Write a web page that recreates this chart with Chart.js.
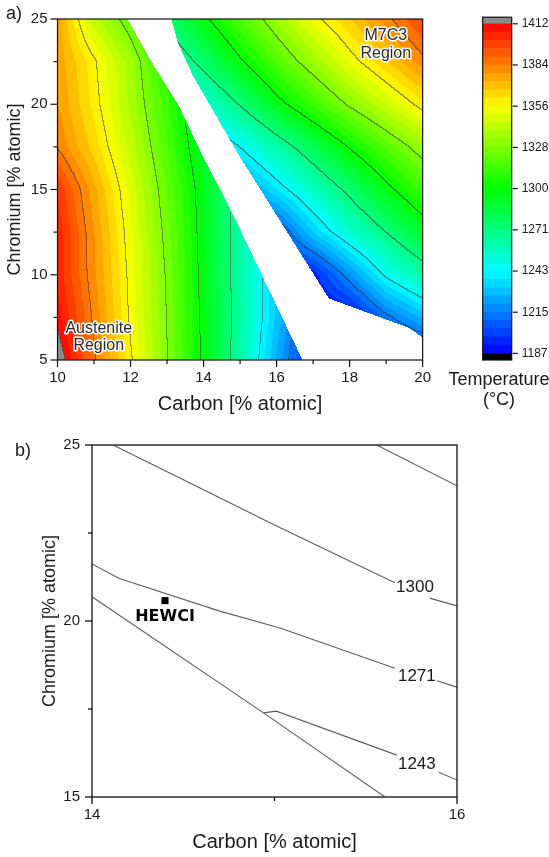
<!DOCTYPE html>
<html>
<head>
<meta charset="utf-8">
<script src="https://cdn.jsdelivr.net/npm/chart.js@4.4.1/dist/chart.umd.min.js"></script>
<style>
  body { margin: 0; background: #fff; }
  #page { position: relative; width: 549px; height: 857px; overflow: hidden; font-family: "Liberation Sans", Arial, sans-serif; color: #1a1a1a; }
  #page canvas { position: absolute; }
  .tag { position: absolute; font-size: 18px; line-height: 18px; }
  #cbTitle { position: absolute; left: 440px; top: 369px; width: 118px; text-align: center; font-size: 18px; line-height: 20px; }
</style>
</head>
<body>
<div id="page">
  <canvas id="mapChart" width="440" height="420" style="left:0;top:0"></canvas>
  <canvas id="barChart" width="109" height="420" style="left:440px;top:0"></canvas>
  <canvas id="zoomChart" width="480" height="437" style="left:0;top:420px"></canvas>
  <div class="tag" style="left:6px;top:4px">a)</div>
  <div class="tag" style="left:15px;top:441px">b)</div>
  <div id="cbTitle">Temperature<br>(°C)</div>
</div>
<script>
Chart.defaults.font.family = '"Liberation Sans", Arial, sans-serif';
Chart.defaults.color = "#1a1a1a";
Chart.defaults.animation = false;

// ---- colour scale ----
const T_MIN = 1187.5;
const T_MAX = 1412.5;
const BANDS = 40;
const BAND = (T_MAX - T_MIN) / BANDS;
const LINE_STEP = BAND * 5;
const CAP = 4.5;
const cbTickLabels = ["1187", "1215", "1243", "1271", "1300", "1328", "1356", "1384", "1412"];

// ---- temperature field (top map), one grid each side of the gap ----
const crRows = [25, 22.5, 20, 17.5, 15, 12.5, 10, 7.5, 5];
const leftCols = [10, 11, 12, 13, 14, 15, 16, 17];
const rightCols = [13, 14, 15, 16, 17, 18, 19, 20];

const leftTemps = [
  [1376, 1342, 1322, 1296, 1270, 1245, 1220, 1195],
  [1377, 1358, 1336, 1308, 1280, 1252, 1226, 1200],
  [1379, 1360, 1338, 1313, 1284, 1256, 1230, 1205],
  [1384, 1365, 1343, 1317, 1289, 1262, 1235, 1208],
  [1401, 1375, 1349, 1322, 1294, 1265, 1237, 1210],
  [1405, 1379, 1352, 1325, 1295, 1264, 1235, 1205],
  [1405, 1380, 1354, 1327, 1296, 1264, 1232, 1202],
  [1410, 1383, 1355, 1328, 1297, 1265, 1231, 1200],
  [1420, 1386, 1358, 1329, 1298, 1263, 1226, 1195]
];

const rightTemps = [
  [1277, 1297, 1317, 1335, 1353, 1367, 1382, 1397],
  [1257, 1277, 1298, 1318, 1335, 1352, 1367, 1382],
  [1233, 1253, 1273, 1295, 1313, 1330, 1345, 1360],
  [1205, 1226, 1244, 1263, 1282, 1301, 1318, 1334],
  [1195, 1200, 1219, 1238, 1257, 1276, 1296, 1314],
  [1190, 1195, 1200, 1205, 1233, 1254, 1272, 1291],
  [1188, 1188, 1190, 1192, 1195, 1220, 1246, 1263],
  [1188, 1188, 1188, 1188, 1188, 1190, 1213, 1228],
  [1188, 1188, 1188, 1188, 1188, 1188, 1190, 1195]
];

// edges of the empty band (carbon, chromium), top to bottom
const gapLeftEdge = [[11.92, 25], [12.52, 22.68], [13.34, 19.83], [13.97, 16.98], [14.71, 13.95], [16.71, 5]];
const gapRightEdge = [[13.12, 25], [13.29, 23.65], [13.7, 21.71], [14.98, 16.97], [17.43, 8.61], [19.62, 6.89], [20, 6.32]];

const leftRegion = [[10, 25]].concat(gapLeftEdge, [[10, 5]]);
const rightRegion = gapRightEdge.concat([[20, 25]]);

const regionNotes = [
  { lines: ["Austenite", "Region"], at: [11.13, 6.33] },
  { lines: ["M7C3", "Region"], at: [18.99, 23.5] }
];

// ---- zoomed view: isotherms ----
const line1328 = [[15.56, 25], [16, 23.84]];
const line1300 = [[14.115, 25], [14.7, 23.5], [15.0, 22.73], [15.66, 21.09], null, [15.85, 20.65], [16, 20.43]];
const line1271 = [[14, 21.62], [14.15, 21.21], [14.7, 20.28], [15.03, 19.8], [15.66, 18.66], null, [15.89, 18.3], [16, 18.12]];
const line1243 = [[14.94, 17.39], [15.01, 17.44], [15.67, 16.19], null, [15.9, 15.7], [16, 15.48]];
const gapBoundary = [[14, 20.69], [14.94, 17.39], [15.605, 15]];
const levelLabels = [1300, 1271, 1243];
const levelLabelAt = [[15.77, 20.96], [15.78, 18.42], [15.78, 15.94]];
const hewci = [14.40, 20.58];

const topXLabels = [10, 12, 14, 16, 18, 20];
const topYLabels = [5, 10, 15, 20, 25];
const zoomXLabels = [14, 16];
const zoomYLabels = [15, 20, 25];

function hueRgb(h) {
  const hp = h / 60;
  const v = Math.round(255 * (1 - Math.abs((hp % 2) - 1)));
  if (hp < 1) return [255, v, 0];
  if (hp < 2) return [v, 255, 0];
  if (hp < 3) return [0, 255, v];
  return [0, v, 255];
}

function bandRgb(b) {
  return hueRgb(240 - (b + 0.5) * 240 / BANDS);
}

function tempRgb(t) {
  if (t >= T_MAX) return [138, 138, 138];
  if (t < T_MIN) return [0, 0, 0];
  return bandRgb(Math.floor((t - T_MIN) / BAND));
}

function insidePoly(px, py, poly) {
  let inside = false;
  for (let i = 0, j = poly.length - 1; i < poly.length; j = i++) {
    const xi = poly[i][0], yi = poly[i][1], xj = poly[j][0], yj = poly[j][1];
    if ((yi > py) !== (yj > py) && px < (xj - xi) * (py - yi) / (yj - yi) + xi) {
      inside = !inside;
    }
  }
  return inside;
}

function sampleGrid(grid, cols, c, cr) {
  let i = 0;
  while (i < cols.length - 2 && c > cols[i + 1]) i++;
  let j = 0;
  while (j < crRows.length - 2 && cr < crRows[j + 1]) j++;
  const fx = Math.min(1, Math.max(0, (c - cols[i]) / (cols[i + 1] - cols[i])));
  const fy = Math.min(1, Math.max(0, (crRows[j] - cr) / (crRows[j] - crRows[j + 1])));
  const top = grid[j][i] + (grid[j][i + 1] - grid[j][i]) * fx;
  const bot = grid[j + 1][i] + (grid[j + 1][i + 1] - grid[j + 1][i]) * fx;
  return top + (bot - top) * fy;
}

function toPoints(list) {
  return list.map(function (p) {
    return p ? { x: p[0], y: p[1] } : { x: null, y: null };
  });
}

// filled contour map + isotherms, painted pixel by pixel through the scales
const fieldPlugin = {
  id: "field",
  beforeDatasetsDraw(chart) {
    const ctx = chart.ctx;
    const a = chart.chartArea;
    const xs = chart.scales.x;
    const ys = chart.scales.y;
    const x0 = Math.floor(a.left), y0 = Math.floor(a.top);
    const w = Math.ceil(a.right) - x0, h = Math.ceil(a.bottom) - y0;

    const off = document.createElement("canvas");
    off.width = w;
    off.height = h;
    const octx = off.getContext("2d");
    const img = octx.createImageData(w, h);
    const px = img.data;
    const level = new Int16Array(w * h);
    const region = new Uint8Array(w * h);

    for (let j = 0; j < h; j++) {
      const cr = ys.getValueForPixel(y0 + j + 0.5);
      for (let i = 0; i < w; i++) {
        const c = xs.getValueForPixel(x0 + i + 0.5);
        const k = j * w + i;
        let t;
        if (insidePoly(c, cr, leftRegion)) {
          t = sampleGrid(leftTemps, leftCols, c, cr);
          region[k] = 1;
        } else if (insidePoly(c, cr, rightRegion)) {
          t = sampleGrid(rightTemps, rightCols, c, cr);
          region[k] = 2;
        } else {
          continue;
        }
        const rgb = tempRgb(t);
        level[k] = Math.floor((t - T_MIN) / LINE_STEP);
        px[k * 4] = rgb[0];
        px[k * 4 + 1] = rgb[1];
        px[k * 4 + 2] = rgb[2];
        px[k * 4 + 3] = 255;
      }
    }

    // isotherm wherever the level changes between neighbours
    for (let j = 0; j < h; j++) {
      for (let i = 0; i < w; i++) {
        const k = j * w + i;
        if (!region[k]) continue;
        let edge = false;
        if (i + 1 < w && region[k + 1] === region[k] && level[k + 1] !== level[k]) edge = true;
        if (j + 1 < h && region[k + w] === region[k] && level[k + w] !== level[k]) edge = true;
        if (edge) {
          for (let n = 0; n < 3; n++) {
            px[k * 4 + n] = Math.round(px[k * 4 + n] * 0.5 + 45 * 0.5);
          }
        }
      }
    }

    octx.putImageData(img, 0, 0);
    ctx.drawImage(off, x0, y0);
  },
  afterDatasetsDraw(chart) {
    const ctx = chart.ctx;
    const xs = chart.scales.x;
    const ys = chart.scales.y;
    ctx.save();
    ctx.font = '16px "Liberation Sans", Arial, sans-serif';
    ctx.textAlign = "center";
    ctx.textBaseline = "middle";
    ctx.lineJoin = "round";
    ctx.lineWidth = 3;
    ctx.strokeStyle = "#ffffff";
    ctx.fillStyle = "#2a2a2a";
    regionNotes.forEach(function (note) {
      const cx = xs.getPixelForValue(note.at[0]);
      const cy = ys.getPixelForValue(note.at[1]);
      note.lines.forEach(function (txt, n) {
        const ty = cy + (n - (note.lines.length - 1) / 2) * 17.5;
        ctx.strokeText(txt, cx, ty);
        ctx.fillText(txt, cx, ty);
      });
    });
    ctx.restore();
  }
};

// box frame plus outward major/minor tick marks
const frameTicks = {
  id: "frameTicks",
  afterDraw(chart, args, opts) {
    const ctx = chart.ctx;
    const a = chart.chartArea;
    ctx.save();
    ctx.strokeStyle = "#111";
    ctx.lineWidth = opts.lineWidth || 1.2;
    ctx.strokeRect(a.left, a.top, a.right - a.left, a.bottom - a.top);
    Object.values(chart.scales).forEach(function (s) {
      if (!s.options.display) return;
      s.ticks.forEach(function (tick) {
        const len = tick.label !== "" ? opts.major : opts.minor;
        const p = s.getPixelForValue(tick.value);
        ctx.beginPath();
        if (s.position === "bottom") {
          ctx.moveTo(p, a.bottom);
          ctx.lineTo(p, a.bottom + len);
        } else if (s.position === "left") {
          ctx.moveTo(a.left, p);
          ctx.lineTo(a.left - len, p);
        } else if (s.position === "right") {
          ctx.moveTo(a.right + 1, p);
          ctx.lineTo(a.right + 1 + len, p);
        }
        ctx.stroke();
      });
    });
    ctx.restore();
  }
};

// level numbers on the isotherms and the alloy name
const zoomLabels = {
  id: "zoomLabels",
  afterDatasetsDraw(chart) {
    const ctx = chart.ctx;
    const xs = chart.scales.x;
    const ys = chart.scales.y;
    ctx.save();
    ctx.textAlign = "center";
    ctx.textBaseline = "middle";
    ctx.fillStyle = "#1a1a1a";
    ctx.font = '17px "Liberation Sans", Arial, sans-serif';
    levelLabels.forEach(function (lv, n) {
      ctx.fillText(String(lv), xs.getPixelForValue(levelLabelAt[n][0]), ys.getPixelForValue(levelLabelAt[n][1]));
    });
    ctx.font = 'bold 16px "DejaVu Sans", sans-serif';
    ctx.fillStyle = "#000";
    ctx.fillText("HEWCI", xs.getPixelForValue(hewci[0]), ys.getPixelForValue(hewci[1]) + 16.5);
    ctx.restore();
  }
};

function tickFont(size) {
  return { size: size };
}

// ---- a) contour map ----
new Chart(document.getElementById("mapChart"), {
  type: "scatter",
  data: { datasets: [] },
  options: {
    responsive: false,
    layout: { padding: { top: 9.3, right: 17, left: 0, bottom: 0 } },
    plugins: {
      legend: { display: false },
      tooltip: { enabled: false },
      frameTicks: { major: 7, minor: 4, lineWidth: 1.2 }
    },
    scales: {
      x: {
        type: "linear",
        min: 10,
        max: 20,
        afterFit: function (s) { s.height = 60; },
        ticks: {
          stepSize: 1,
          autoSkip: false,
          maxRotation: 0,
          padding: 9,
          font: tickFont(15),
          callback: function (v) { return topXLabels.includes(v) ? String(v) : ""; }
        },
        grid: { drawOnChartArea: false, drawTicks: false },
        border: { display: false },
        title: { display: true, text: "Carbon [% atomic]", font: { size: 20 }, padding: { top: 0, bottom: 3.5 } }
      },
      y: {
        type: "linear",
        min: 5,
        max: 25,
        afterFit: function (s) { s.width = 57.5; },
        ticks: {
          stepSize: 2.5,
          autoSkip: false,
          padding: 10,
          font: tickFont(15),
          callback: function (v) { return topYLabels.includes(v) ? String(v) : ""; }
        },
        grid: { drawOnChartArea: false, drawTicks: false },
        border: { display: false },
        title: { display: true, text: "Chromium [% atomic]", font: { size: 18 }, padding: { top: 4.7, bottom: 0 } }
      }
    }
  },
  plugins: [fieldPlugin, frameTicks]
});

// ---- colour bar ----
const bandDatasets = [];
for (let b = 0; b < BANDS; b++) {
  const lo = T_MIN + b * BAND;
  bandDatasets.push({ data: [[lo, lo + BAND]], backgroundColor: "rgb(" + bandRgb(b).join(",") + ")" });
}
bandDatasets.push({ data: [[T_MAX, T_MAX + CAP]], backgroundColor: "#8a8a8a" });
bandDatasets.push({ data: [[T_MIN - CAP, T_MIN]], backgroundColor: "#000000" });

new Chart(document.getElementById("barChart"), {
  type: "bar",
  data: { labels: [""], datasets: bandDatasets },
  options: {
    responsive: false,
    layout: { padding: { top: 9.3, left: 42.7, right: 0, bottom: 60 } },
    datasets: { bar: { barPercentage: 1, categoryPercentage: 1, borderWidth: 0 } },
    plugins: {
      legend: { display: false },
      tooltip: { enabled: false },
      frameTicks: { major: 5, minor: 5, lineWidth: 1.2 }
    },
    scales: {
      x: { stacked: true, display: false },
      y: {
        position: "right",
        min: T_MIN - CAP,
        max: T_MAX + CAP,
        afterFit: function (s) { s.width = 37.3; },
        afterBuildTicks: function (s) {
          s.ticks = cbTickLabels.map(function (lbl, i) { return { value: T_MIN + i * LINE_STEP }; });
        },
        ticks: {
          padding: 10,
          font: tickFont(12),
          callback: function (v, i) { return cbTickLabels[i]; }
        },
        grid: { drawOnChartArea: false, drawTicks: false },
        border: { display: false }
      }
    }
  },
  plugins: [frameTicks]
});

// ---- b) detail of the isotherms ----
function lineSet(list) {
  return {
    data: toPoints(list),
    showLine: true,
    borderColor: "#5e5e5e",
    borderWidth: 1.1,
    pointRadius: 0,
    tension: 0
  };
}

new Chart(document.getElementById("zoomChart"), {
  type: "scatter",
  data: {
    datasets: [
      lineSet(line1328),
      lineSet(line1300),
      lineSet(line1271),
      lineSet(line1243),
      lineSet(gapBoundary),
      {
        data: [{ x: hewci[0], y: hewci[1] }],
        pointStyle: "rect",
        pointRadius: 5,
        backgroundColor: "#000",
        borderColor: "#000",
        borderWidth: 0
      }
    ]
  },
  options: {
    responsive: false,
    layout: { padding: { top: 25, right: 23, left: 0, bottom: 0 } },
    plugins: {
      legend: { display: false },
      tooltip: { enabled: false },
      frameTicks: { major: 7, minor: 4, lineWidth: 1.3 }
    },
    scales: {
      x: {
        type: "linear",
        min: 14,
        max: 16,
        afterFit: function (s) { s.height = 60; },
        ticks: {
          stepSize: 1,
          autoSkip: false,
          maxRotation: 0,
          padding: 9,
          font: tickFont(15),
          callback: function (v) { return zoomXLabels.includes(v) ? String(v) : ""; }
        },
        grid: { drawOnChartArea: false, drawTicks: false },
        border: { display: false },
        title: { display: true, text: "Carbon [% atomic]", font: { size: 20 }, padding: { top: 0, bottom: 2.5 } }
      },
      y: {
        type: "linear",
        min: 15,
        max: 25,
        afterFit: function (s) { s.width = 92; },
        ticks: {
          stepSize: 2.5,
          autoSkip: false,
          padding: 12,
          font: tickFont(15),
          callback: function (v) { return zoomYLabels.includes(v) ? String(v) : ""; }
        },
        grid: { drawOnChartArea: false, drawTicks: false },
        border: { display: false },
        title: { display: true, text: "Chromium [% atomic]", font: { size: 18 }, padding: { top: 39.2, bottom: 0 } }
      }
    }
  },
  plugins: [zoomLabels, frameTicks]
});
</script>
</body>
</html>
